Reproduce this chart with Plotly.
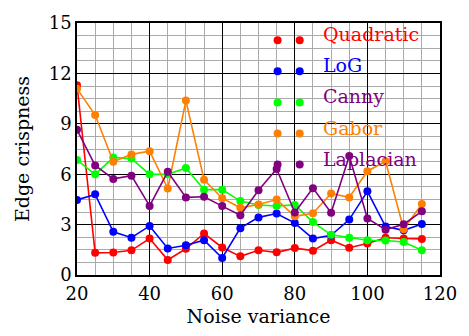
import plotly.graph_objects as go

noise = [20, 25, 30, 35, 40, 45, 50, 55, 60, 65, 70, 75, 80, 85, 90, 95, 100, 105, 110, 115]
quadratic = [11.3, 1.32, 1.34, 1.47, 2.17, 0.90, 1.56, 2.47, 1.64, 1.11, 1.47, 1.35, 1.60, 1.45, 2.07, 1.62, 1.88, 2.22, 2.17, 2.15]
log_ = [4.47, 4.80, 2.57, 2.22, 2.92, 1.58, 1.77, 2.07, 1.01, 2.79, 3.43, 3.66, 3.09, 2.17, 2.36, 3.30, 4.98, 2.88, 2.66, 3.04]
canny = [6.84, 5.99, 6.99, 6.93, 5.99, 5.99, 6.37, 5.08, 5.08, 4.40, 4.17, 4.11, 4.17, 3.15, 2.39, 2.22, 2.07, 2.05, 1.96, 1.47]
gabor = [11.09, 9.52, 6.74, 7.18, 7.37, 5.15, 10.38, 5.67, 4.57, 4.00, 4.20, 4.49, 3.49, 3.68, 4.85, 4.62, 6.18, 6.77, 2.73, 4.23]
laplacian = [8.64, 6.52, 5.72, 5.91, 4.11, 6.14, 4.62, 4.66, 4.10, 3.56, 5.04, 6.31, 3.72, 5.17, 3.70, 7.08, 3.36, 2.70, 3.02, 3.79]

series_names = ["Quadratic", "LoG", "Canny", "Gabor", "Laplacian"]
series_values = [quadratic, log_, canny, gabor, laplacian]
series_colors = ["#ff0000", "#0000ff", "#00ff00", "#ff8000", "#800080"]
label_colors = ["#ff0000", "#0000ff", "#800080", "#ff8000", "#800080"]

FONT = "DejaVu Serif"

fig = go.Figure()
for name, vals, col in zip(series_names, series_values, series_colors):
    fig.add_trace(go.Scatter(x=noise, y=vals, name=name, mode="lines+markers",
                             line=dict(color=col, width=1.6),
                             marker=dict(color=col, size=8),
                             showlegend=False))

# custom legend (two dots + coloured label), paper coordinates
leg_x1, leg_x2, leg_tx = 0.5526, 0.6135, 0.672
leg_y0, leg_dy = 0.932, 0.1235
for i, (name, col, lcol) in enumerate(zip(series_names, series_colors, label_colors)):
    yy = leg_y0 - i * leg_dy
    for xx in (leg_x1, leg_x2):
        fig.add_shape(type="circle", xref="paper", yref="paper",
                      xsizemode="pixel", ysizemode="pixel",
                      xanchor=xx, yanchor=yy, x0=-4, x1=4, y0=-4, y1=4,
                      fillcolor=col, line=dict(width=0))
    fig.add_annotation(x=leg_tx, y=yy, xref="paper", yref="paper",
                       text=name, showarrow=False, xanchor="left", yanchor="middle",
                       yshift=6, font=dict(family=FONT, size=19, color=lcol))

fig.update_layout(
    width=469, height=336,
    margin=dict(l=77, r=21, t=17, b=55),
    plot_bgcolor="white", paper_bgcolor="white",
    font=dict(family=FONT, size=18, color="black"),
    xaxis=dict(range=[20, 120], tick0=20, dtick=20, showgrid=True, gridcolor="black", gridwidth=1,
               minor=dict(tick0=20, dtick=5, showgrid=True, gridcolor="#aaaaaa", gridwidth=1),
               showline=True, linecolor="black", linewidth=1.5, mirror=True, ticks="",
               zeroline=False, tickfont=dict(family=FONT, size=18), ticklabelstandoff=2,
               title=dict(text="Noise variance", standoff=6, font=dict(family=FONT, size=19))),
    yaxis=dict(range=[0, 15], tick0=0, dtick=3, showgrid=True, gridcolor="black", gridwidth=1,
               minor=dict(tick0=0, dtick=0.75, showgrid=True, gridcolor="#aaaaaa", gridwidth=1),
               showline=True, linecolor="black", linewidth=1.5, mirror=True, ticks="",
               zeroline=False, tickfont=dict(family=FONT, size=18),
               title=dict(text="Edge crispness", standoff=14, font=dict(family=FONT, size=19))),
)

fig.write_html("out.html")
